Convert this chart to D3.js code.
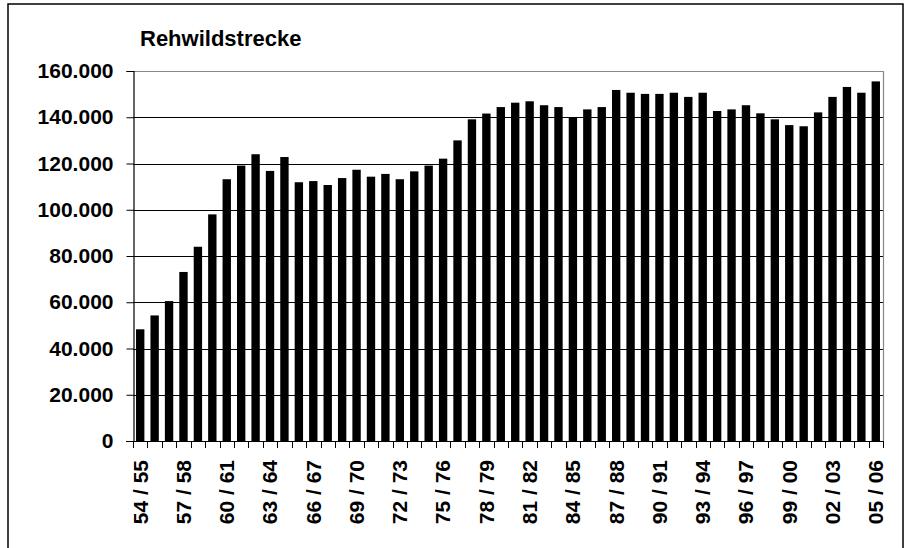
<!DOCTYPE html>
<html>
<head>
<meta charset="utf-8">
<script src="https://cdn.jsdelivr.net/npm/d3@7"></script>
<style>
  html, body { margin: 0; padding: 0; background: #fff; }
  svg { display: block; }
  text { font-family: "Liberation Sans", Arial, sans-serif; font-weight: bold; fill: #000; }
</style>
</head>
<body>
<svg id="chart" width="911" height="548"></svg>
<script>
const title = "Rehwildstrecke";
const categories = ["54 / 55","55 / 56","56 / 57","57 / 58","58 / 59","59 / 60","60 / 61","61 / 62","62 / 63","63 / 64",
  "64 / 65","65 / 66","66 / 67","67 / 68","68 / 69","69 / 70","70 / 71","71 / 72","72 / 73","73 / 74",
  "74 / 75","75 / 76","76 / 77","77 / 78","78 / 79","79 / 80","80 / 81","81 / 82","82 / 83","83 / 84",
  "84 / 85","85 / 86","86 / 87","87 / 88","88 / 89","89 / 90","90 / 91","91 / 92","92 / 93","93 / 94",
  "94 / 95","95 / 96","96 / 97","97 / 98","98 / 99","99 / 00","00 / 01","01 / 02","02 / 03","03 / 04",
  "04 / 05","05 / 06"];
const values = [48300,54300,60500,73100,84000,98000,113200,119100,124000,116800,
  122800,111900,112400,110700,113700,117300,114300,115500,113200,116600,
  119100,122100,130000,139100,141600,144400,146300,146900,145200,144400,
  139800,143400,144400,151800,150600,150100,150100,150600,148800,150600,
  142700,143400,145200,141700,139100,136600,136100,142100,148800,153100,
  150600,155500];
const xTickLabels = ["54 / 55","57 / 58","60 / 61","63 / 64","66 / 67","69 / 70","72 / 73","75 / 76","78 / 79",
  "81 / 82","84 / 85","87 / 88","90 / 91","93 / 94","96 / 97","99 / 00","02 / 03","05 / 06"];
const yTicks = [0,20000,40000,60000,80000,100000,120000,140000,160000];

const svg = d3.select("#chart");
const L = 133, R = 883, T = 71, B = 441;

// outer frame
svg.append("rect").attr("x", 8).attr("y", 4).attr("width", 895).attr("height", 560)
  .attr("fill", "none").attr("stroke", "#000").attr("stroke-width", 1.5);

const x = d3.scaleBand().domain(categories).range([L, R]).paddingInner(0.42).paddingOuter(0.21);
const y = d3.scaleLinear().domain([0, 160000]).range([B, T]);
const de = d3.formatLocale({decimal: ",", thousands: ".", grouping: [3], currency: ["", "€"]});
const fmt = de.format(",.0f");

// gridlines
svg.append("g").selectAll("line").data(yTicks.filter(v => v > 0 && v < 160000)).join("line")
  .attr("x1", L).attr("x2", R).attr("y1", d => Math.round(y(d)) + 0.5).attr("y2", d => Math.round(y(d)) + 0.5)
  .attr("stroke", "#000").attr("stroke-width", 1);

// plot frame top/right (gray)
svg.append("path")
  .attr("d", `M${L},${Math.round(y(160000)) + 0.5}H${R + 0.5}V${B}`)
  .attr("fill", "none").attr("stroke", "#888").attr("stroke-width", 1.2);

// bars
svg.append("g").selectAll("rect").data(values).join("rect")
  .attr("x", (d, i) => x(categories[i]))
  .attr("width", x.bandwidth())
  .attr("y", d => y(d))
  .attr("height", d => y(0) - y(d))
  .attr("fill", "#000");

// y axis
const yAxis = d3.axisLeft(y).tickValues(yTicks).tickFormat(fmt).tickSize(7).tickPadding(13);
const gy = svg.append("g").attr("transform", `translate(${L + 0.5},0)`).call(yAxis);
gy.select(".domain").attr("stroke", "#000").attr("stroke-width", 1.2);
gy.selectAll(".tick line").attr("stroke", "#000");
gy.selectAll(".tick text").style("font-size", "21px").style("font-family", '"Liberation Sans", Arial, sans-serif').style("font-weight", "bold");

// x axis line
svg.append("line").attr("x1", L - 7).attr("x2", R + 0.5).attr("y1", B + 0.5).attr("y2", B + 0.5)
  .attr("stroke", "#000").attr("stroke-width", 1.2);

// x ticks at category boundaries
const step = x.step();
const bounds = categories.map(c => x(c) - (step - x.bandwidth()) / 2).concat([R]);
svg.append("g").selectAll("line").data(bounds).join("line")
  .attr("x1", d => Math.round(d) + 0.5).attr("x2", d => Math.round(d) + 0.5)
  .attr("y1", B).attr("y2", B + 7).attr("stroke", "#000").attr("stroke-width", 1);

// x labels (rotated)
svg.append("g").selectAll("text").data(xTickLabels).join("text")
  .attr("transform", d => `translate(${x(d) + x.bandwidth() / 2},${B + 19}) rotate(-90)`)
  .attr("text-anchor", "end").attr("dy", "0.35em")
  .style("font-size", "21px")
  .text(d => d);

// title
svg.append("text").attr("x", 140).attr("y", 46).style("font-size", "22px").text(title);
</script>
</body>
</html>
